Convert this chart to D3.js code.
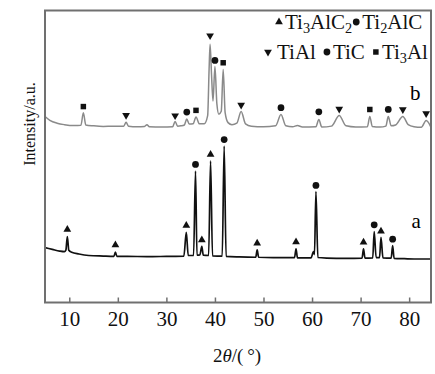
<!DOCTYPE html>
<html>
<head>
<meta charset="utf-8">
<script src="https://cdn.jsdelivr.net/npm/d3@7"></script>
<style>
  body { margin: 0; background: #fff; }
  svg { display: block; }
  svg text { font-family: "Liberation Serif", "DejaVu Serif", serif; }
</style>
</head>
<body>
<svg id="chart" width="435" height="374"></svg>
<script>
// tick labels of the 2theta axis
const xTicks = [10, 20, 30, 40, 50, 60, 70, 80];

// phases shown in the legend, in legend order
const phases = ["Ti3AlC2", "Ti2AlC", "TiAl", "TiC", "Ti3Al"];
const legendRows = [["Ti3AlC2", "Ti2AlC"], ["TiAl", "TiC", "Ti3Al"]];

// pattern a (black), [2theta, intensity a.u.]
const curveA = [
  [5, 18.8], [6.5, 18.2], [8, 17.6], [9.0, 17.4], [9.3, 17.9], [9.6, 22.6], [9.9, 17.9],
  [10.5, 17.2], [12, 16.6], [14, 16.1], [17, 15.9], [19.2, 15.8], [19.5, 17.3], [19.8, 15.8],
  [22, 15.8], [26, 15.7], [30, 15.8], [33.6, 15.9], [34.1, 24.0], [34.5, 16.1], [35.6, 16.1],
  [36.0, 45.0], [36.3, 16.2], [36.9, 16.3], [37.3, 19.2], [37.6, 16.2], [38.7, 16.1],
  [39.1, 48.5], [39.5, 16.0], [41.5, 15.9], [41.9, 53.6], [42.3, 15.8], [45, 15.6],
  [48.4, 15.5], [48.7, 18.0], [49.0, 15.5], [52, 15.4], [56.4, 15.4], [56.7, 18.4],
  [57.0, 15.3], [59.8, 15.3], [60.3, 17.4], [60.5, 16.4], [60.8, 38.0], [61.2, 15.4],
  [63, 15.2], [67, 15.1], [70.3, 15.2], [70.6, 18.4], [70.9, 15.2], [72.5, 15.3],
  [72.8, 24.3], [73.2, 15.4], [73.9, 15.4], [74.2, 22.3], [74.6, 15.3], [76.3, 15.2],
  [76.6, 19.5], [76.9, 15.1], [79, 15.0], [82, 14.9], [84.5, 14.9]
];

// pattern b (grey)
const curveB = [
  [5, 63.7], [6, 62.4], [7.5, 61.4], [9, 60.9], [11, 60.6], [12.4, 60.7], [12.9, 65.0],
  [13.4, 60.8], [15, 60.5], [17, 60.3], [19, 60.4], [21.2, 60.4], [21.7, 61.7], [22.2, 60.4],
  [24, 60.2], [25.5, 60.3], [26, 60.9], [26.5, 60.2], [29, 60.1], [31.3, 60.2], [31.8, 62.0],
  [32.3, 60.4], [33, 60.5], [33.7, 60.8], [34.2, 62.8], [34.7, 61.1], [35.5, 61.2],
  [36.1, 63.5], [36.8, 61.2], [37.8, 61.2], [38.5, 64.0], [38.8, 80.0], [39.0, 88.4],
  [39.3, 78.0], [39.6, 69.0], [40.0, 80.8], [40.4, 68.0], [40.8, 64.5], [41.3, 65.5],
  [41.7, 79.8], [42.1, 65.0], [42.7, 61.6], [43.5, 60.9], [44.5, 61.4], [45.4, 65.4],
  [46.3, 61.2], [47.5, 60.4], [50, 60.2], [52.5, 60.5], [53.6, 64.4], [54.6, 60.5],
  [56, 60.2], [57, 60.6], [58, 60.1], [60.8, 60.2], [61.4, 62.7], [62, 60.1], [64, 60.4],
  [65.6, 64.0], [67, 60.5], [69, 60.1], [71.4, 60.2], [71.9, 63.7], [72.4, 60.3], [74, 60.1],
  [75.2, 60.4], [75.7, 63.7], [76.3, 60.5], [77.2, 60.8], [78.7, 63.7], [79.8, 60.9],
  [81, 60.2], [82.5, 60.0], [83.5, 62.3], [84.5, 60.0]
];

// peak markers, [2theta, marker height, phase]
const markersA = [
  [9.6, 25.0, "Ti3AlC2"], [19.5, 19.7, "Ti3AlC2"], [34.1, 26.4, "Ti3AlC2"], [36.0, 47.3, "TiC"],
  [37.3, 21.4, "Ti3AlC2"], [39.1, 50.7, "Ti3AlC2"], [41.9, 55.8, "TiC"], [48.7, 20.3, "Ti3AlC2"],
  [56.7, 20.7, "Ti3AlC2"], [60.8, 40.1, "TiC"], [70.6, 20.6, "Ti3AlC2"], [72.8, 26.6, "TiC"],
  [74.2, 24.4, "Ti3AlC2"], [76.6, 21.7, "TiC"]
];
const markersB = [
  [12.9, 67.1, "Ti3Al"], [21.7, 64.1, "TiAl"], [31.8, 64.0, "TiAl"], [34.2, 65.2, "Ti2AlC"],
  [36.1, 65.8, "Ti3Al"], [39.0, 91.4, "TiAl"], [40.0, 82.9, "Ti2AlC"], [41.7, 82.1, "Ti3Al"],
  [45.4, 67.6, "TiAl"], [53.6, 66.7, "Ti2AlC"], [61.4, 65.3, "TiC"], [65.6, 66.3, "TiAl"],
  [71.9, 66.1, "Ti3Al"], [75.7, 66.1, "TiC"], [78.7, 66.1, "TiAl"], [83.5, 64.7, "TiAl"]
];

const svg = d3.select("#chart");
const plotL = 45, plotR = 431, plotT = 10.5, plotB = 302.5;
const frameColor = "#707070";
const serif = "Liberation Serif, DejaVu Serif, serif";

const x = d3.scaleLinear().domain([5, 84.5]).range([plotL, plotR]);
const y = d3.scaleLinear().domain([0, 100]).range([plotB, plotT]);

const symbolOf = {
  Ti3AlC2: { type: d3.symbolTriangle, size: 26, rot: 0 },
  Ti2AlC: { type: d3.symbolCircle, size: 36, rot: 0 },
  TiAl: { type: d3.symbolTriangle, size: 26, rot: 180 },
  TiC: { type: d3.symbolCircle, size: 36, rot: 0 },
  Ti3Al: { type: d3.symbolSquare, size: 30, rot: 0 }
};
const sym = d3.symbol();
function drawMarker(g, phase, px, py) {
  const s = symbolOf[phase];
  g.append("path")
    .attr("d", sym.type(s.type).size(s.size)())
    .attr("transform", "translate(" + px + "," + py + ") rotate(" + s.rot + ")")
    .attr("fill", "#111");
}

// formula with subscript digits
function formula(textSel, name, size) {
  let shifted = false;
  name.split(/(\d+)/).filter(p => p).forEach(part => {
    const ts = textSel.append("tspan").text(part);
    if (/^\d+$/.test(part)) {
      ts.attr("font-size", size * 0.68).attr("dy", 4);
      shifted = true;
    } else if (shifted) {
      ts.attr("dy", -4);
      shifted = false;
    }
  });
}

// curves
const line = d3.line().x(d => x(d[0])).y(d => y(d[1])).curve(d3.curveMonotoneX);
svg.append("path").datum(curveB)
  .attr("d", line).attr("fill", "none")
  .attr("stroke", "#8a8a8a").attr("stroke-width", 1.5);
svg.append("path").datum(curveA)
  .attr("d", line).attr("fill", "none")
  .attr("stroke", "#111").attr("stroke-width", 1.7);

const mg = svg.append("g");
markersA.forEach(m => drawMarker(mg, m[2], x(m[0]), y(m[1])));
markersB.forEach(m => drawMarker(mg, m[2], x(m[0]), y(m[1])));

// curve names
svg.append("text").attr("x", x(80.5)).attr("y", y(25.5)).attr("font-family", serif)
  .attr("font-size", 21).text("a");
svg.append("text").attr("x", x(80.2)).attr("y", y(69.5)).attr("font-family", serif)
  .attr("font-size", 21).text("b");

// frame
svg.append("rect")
  .attr("x", plotL).attr("y", plotT)
  .attr("width", plotR - plotL).attr("height", plotB - plotT)
  .attr("fill", "none").attr("stroke", frameColor).attr("stroke-width", 2);

// x axis, ticks pointing inward
const xAxis = d3.axisBottom(x).tickValues(xTicks).tickSizeInner(-5).tickSizeOuter(0).tickPadding(9);
const ax = svg.append("g").attr("transform", "translate(0," + plotB + ")").call(xAxis)
  .attr("font-family", serif).attr("font-size", 21);
ax.select(".domain").remove();
ax.selectAll(".tick line").attr("stroke", frameColor).attr("stroke-width", 1.5);
ax.selectAll(".tick text").attr("fill", "#111");

// axis titles
svg.append("text")
  .attr("transform", "translate(35,124) rotate(-90)")
  .attr("text-anchor", "middle").attr("font-family", serif)
  .attr("font-size", 16).attr("fill", "#111")
  .text("Intensity/a.u.");

const xt = svg.append("text")
  .attr("x", 237).attr("y", 362).attr("text-anchor", "middle")
  .attr("font-family", serif).attr("font-size", 19).attr("fill", "#111");
xt.append("tspan").text("2");
xt.append("tspan").attr("font-style", "italic").text("\u03b8");
xt.append("tspan").text("/(\u2009\u00b0)");

// legend, laid out left to right in two rows
const lg = svg.append("g");
const legendFont = 21;
const rowStart = [276, 265];
const rowBase = [29, 59];
legendRows.forEach((row, r) => {
  let cx = rowStart[r];
  row.forEach((ph, i) => {
    drawMarker(lg, ph, cx + 3, rowBase[r] - 7);
    const tx = cx + (r === 1 && i === 0 ? 12 : 9);
    const t = lg.append("text").attr("x", tx).attr("y", rowBase[r])
      .attr("font-family", serif).attr("font-size", legendFont).attr("fill", "#111");
    formula(t, ph, legendFont);
    cx = tx + t.node().getComputedTextLength() + (r === 0 ? 1 : 8);
  });
});
</script>
</body>
</html>
